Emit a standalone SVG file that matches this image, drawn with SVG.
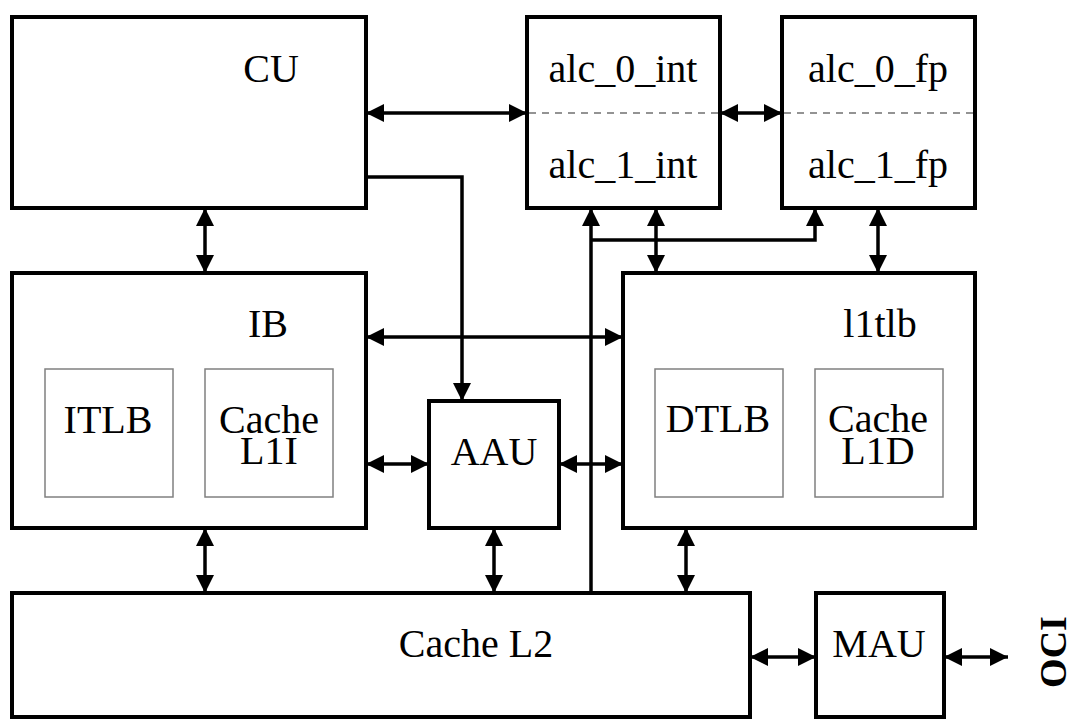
<svg xmlns="http://www.w3.org/2000/svg" width="1075" height="720" viewBox="0 0 1075 720">
<style>
.box{fill:#fff;stroke:#000;stroke-width:4}
.inner{fill:none;stroke:#808080;stroke-width:1.5}
.dash{stroke:#707070;stroke-width:1.5;stroke-dasharray:7,6;fill:none}
.t{font-family:'Liberation Serif','Times New Roman',Tinos,'Nimbus Roman','DejaVu Serif',serif;font-size:40px;fill:#000;text-anchor:middle}
.b{font-weight:bold;font-size:38px}
.c{fill:none;stroke:#000;stroke-width:3.5}
</style>
<defs>
<marker id="ah" markerUnits="userSpaceOnUse" markerWidth="18" markerHeight="18" refX="17" refY="8.5" orient="auto-start-reverse" viewBox="0 0 17 17">
<path d="M0,0 L17,8.5 L0,17 z" fill="#000"/>
</marker>
</defs>
<rect width="1075" height="720" fill="#fff"/>
<g id="CU"><rect class="box" x="12" y="17" width="354" height="191"/><text class="t" x="271" y="82">CU</text></g>
<g id="alc_int"><rect class="box" x="527" y="17" width="193" height="191"/><line class="dash" x1="529" y1="113" x2="718" y2="113"/><text class="t" x="623" y="82">alc_0_int</text><text class="t" x="623" y="178">alc_1_int</text></g>
<g id="alc_fp"><rect class="box" x="782" y="17" width="193" height="191"/><line class="dash" x1="784" y1="113" x2="973" y2="113"/><text class="t" x="878" y="82">alc_0_fp</text><text class="t" x="878" y="178">alc_1_fp</text></g>
<g id="IB"><rect class="box" x="12" y="273" width="354" height="255"/><text class="t" x="268" y="337">IB</text>
<g id="ITLB"><rect class="inner" x="45" y="369" width="128" height="128"/><text class="t" x="108" y="433">ITLB</text></g>
<g id="CacheL1I"><rect class="inner" x="205" y="369" width="128" height="128"/><text class="t" x="269" y="433">Cache</text><text class="t" x="269" y="464">L1I</text></g>
</g>
<g id="AAU"><rect class="box" x="429" y="401" width="130" height="127"/><text class="t" x="494" y="465">AAU</text></g>
<g id="l1tlb"><rect class="box" x="623" y="273" width="352" height="255"/><text class="t" x="880" y="337">l1tlb</text>
<g id="DTLB"><rect class="inner" x="655" y="369" width="128" height="128"/><text class="t" x="718" y="432">DTLB</text></g>
<g id="CacheL1D"><rect class="inner" x="815" y="369" width="128" height="128"/><text class="t" x="878" y="432">Cache</text><text class="t" x="878" y="464">L1D</text></g>
</g>
<g id="CacheL2"><rect class="box" x="12" y="593" width="738" height="124"/><text class="t" x="476" y="657">Cache L2</text></g>
<g id="MAU"><rect class="box" x="816" y="593" width="128" height="124"/><text class="t" x="879" y="657">MAU</text></g>
<g id="OCI"><text class="t b" transform="translate(1066,652) rotate(-90)">OCI</text></g>
<g id="connectors">
<line class="c" x1="366" y1="113" x2="527" y2="113" marker-start="url(#ah)" marker-end="url(#ah)"/>
<line class="c" x1="720" y1="113" x2="782" y2="113" marker-start="url(#ah)" marker-end="url(#ah)"/>
<path class="c" d="M366,177 H462 V401" marker-end="url(#ah)"/>
<line class="c" x1="205" y1="208" x2="205" y2="273" marker-start="url(#ah)" marker-end="url(#ah)"/>
<line class="c" x1="366" y1="337" x2="623" y2="337" marker-start="url(#ah)" marker-end="url(#ah)"/>
<line class="c" x1="366" y1="464" x2="429" y2="464" marker-start="url(#ah)" marker-end="url(#ah)"/>
<line class="c" x1="559" y1="464" x2="623" y2="464" marker-start="url(#ah)" marker-end="url(#ah)"/>
<line class="c" x1="205" y1="528" x2="205" y2="593" marker-start="url(#ah)" marker-end="url(#ah)"/>
<line class="c" x1="494" y1="528" x2="494" y2="593" marker-start="url(#ah)" marker-end="url(#ah)"/>
<line class="c" x1="686" y1="528" x2="686" y2="593" marker-start="url(#ah)" marker-end="url(#ah)"/>
<line class="c" x1="750" y1="657" x2="816" y2="657" marker-start="url(#ah)" marker-end="url(#ah)"/>
<line class="c" x1="944" y1="657" x2="1008" y2="657" marker-start="url(#ah)" marker-end="url(#ah)"/>
<path class="c" d="M591,593 V208" marker-end="url(#ah)"/>
<path class="c" d="M591,240 H815 V208" marker-end="url(#ah)"/>
<line class="c" x1="656" y1="208" x2="656" y2="273" marker-start="url(#ah)" marker-end="url(#ah)"/>
<line class="c" x1="878" y1="208" x2="878" y2="273" marker-start="url(#ah)" marker-end="url(#ah)"/>
</g>
</svg>
